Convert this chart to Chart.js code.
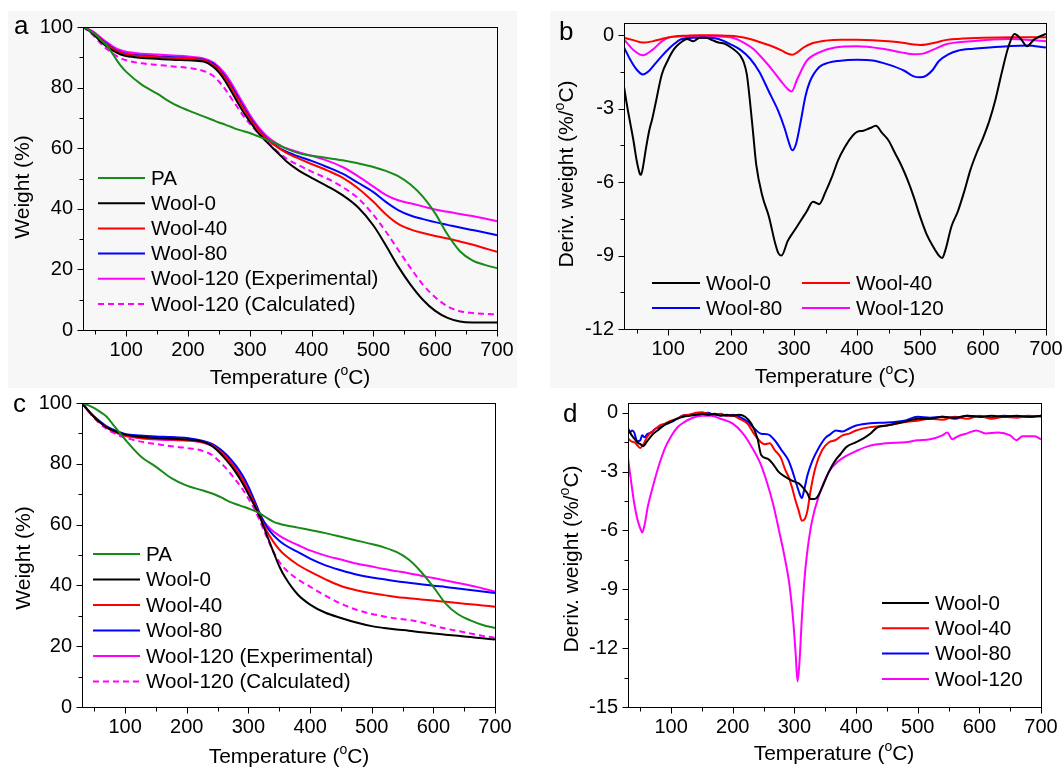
<!DOCTYPE html>
<html>
<head>
<meta charset="utf-8">
<script src="https://cdn.jsdelivr.net/npm/chart.js@4.4.1/dist/chart.umd.min.js"></script>
<style>
  body { margin: 0; background: #fff; }
  #fig { position: relative; width: 1063px; height: 767px; overflow: hidden; }
  .bg { position: absolute; background: #f7f7f7; }
  canvas { position: absolute; }
</style>
</head>
<body>
<div id="fig">
  <div class="bg" style="left:8px;top:11px;width:509px;height:377px"></div>
  <div class="bg" style="left:550px;top:11px;width:505px;height:377px"></div>
  <canvas id="ca" width="530" height="390" style="left:0;top:0;width:530px;height:390px"></canvas>
  <canvas id="cb" width="533" height="390" style="left:530px;top:0;width:533px;height:390px"></canvas>
  <canvas id="cc" width="530" height="377" style="left:0;top:390px;width:530px;height:377px"></canvas>
  <canvas id="cd" width="533" height="377" style="left:530px;top:390px;width:533px;height:377px"></canvas>
</div>
<script>
// ---- axis ticks ----
const xTicks = [100, 200, 300, 400, 500, 600, 700];
const xMinor = [50, 150, 250, 350, 450, 550, 650];
const wTicks = [0, 20, 40, 60, 80, 100];
const wMinor = [10, 30, 50, 70, 90];
const bTicks = [0, -3, -6, -9, -12];
const bMinor = [-1.5, -4.5, -7.5, -10.5];
const dTicks = [0, -3, -6, -9, -12, -15];
const dMinor = [-1.5, -4.5, -7.5, -10.5, -13.5];

// ---- TGA (panels a and c), shared temperature grid ----
const tgaT = [30, 40, 50, 60, 70, 80, 90, 100, 125, 150, 175, 200, 225, 240, 250, 260, 270, 280, 290, 300,
  310, 320, 330, 340, 350, 360, 380, 400, 425, 450, 475, 500, 520, 540, 560, 580, 600, 620, 640, 660, 680, 700];

const aPA = [100, 99, 97.5, 95.5, 93.5, 90.5, 87.5, 85.2, 81, 78, 74.8, 72.5, 70.5, 69.3, 68.5, 67.8, 67, 66.2, 65.6, 65,
  64.2, 63.4, 62.6, 61.8, 60.8, 59.8, 58.3, 57.5, 56.8, 56, 55, 53.8, 52.5, 50.8, 48, 44, 38.5, 31.5, 26, 23, 21.5, 20.4];
const aW0 = [100, 98.8, 97, 95, 93.3, 92, 91, 90.4, 89.8, 89.5, 89.2, 89, 88.6, 87, 85, 82.2, 78.8, 75.2, 71.8, 68.8,
  66, 63.6, 61.5, 59.5, 57.5, 55.5, 52.5, 50.2, 47.5, 44.5, 40.5, 34.5, 28, 21, 15, 10, 6.3, 4, 2.8, 2.5, 2.5, 2.5];
const aW40 = [100, 99, 97.5, 95.7, 94, 92.6, 91.6, 91, 90.4, 90, 89.8, 89.6, 89, 87.6, 85.8, 83.2, 80, 76.5, 73, 69.8,
  67, 64.6, 62.6, 61, 59.6, 58.4, 56.5, 54.8, 52.7, 50.3, 46.8, 42.3, 38.2, 35, 33.2, 32, 31, 30.2, 29.2, 28.2, 27, 25.8];
const aW80 = [100, 99, 97.5, 95.8, 94.2, 92.8, 91.8, 91.2, 90.6, 90.3, 90, 89.8, 89.2, 88, 86.2, 83.6, 80.5, 77, 73.5, 70.2,
  67.3, 64.8, 62.8, 61.2, 59.8, 58.8, 57.2, 55.8, 53.8, 51.6, 48.6, 45.5, 42.3, 39.6, 37.8, 36.6, 35.6, 34.7, 33.8, 33, 32.2, 31.3];
const aW120 = [100, 99.2, 98, 96.3, 94.8, 93.4, 92.4, 91.8, 91.2, 90.9, 90.6, 90.3, 89.6, 88.4, 86.8, 84.5, 81.5, 78, 74.5, 71,
  68, 65.5, 63.5, 62, 60.8, 59.9, 58.6, 57.5, 55.9, 53.8, 50.8, 47.3, 44.6, 42.8, 41.8, 40.8, 39.8, 39, 38.3, 37.6, 36.8, 35.9];
const aW120c = [100, 98.5, 96.5, 94.3, 92.5, 91, 89.8, 89, 88, 87.5, 87, 86.5, 85.5, 84, 82, 79.5, 76.5, 73.5, 70.5, 68,
  65.8, 63.8, 61.8, 59.8, 58, 56.5, 54.3, 52.3, 50, 47.2, 43.5, 38, 32.5, 26.5, 20.5, 15, 10.8, 7.8, 6.2, 5.6, 5.3, 5.1];

const cPA = [100, 99.3, 98.3, 97, 95.5, 93, 90.5, 88, 82.5, 79, 75.3, 72.8, 71.3, 70.3, 69.5, 68.5, 67.5, 66.7, 66, 65.3,
  64.5, 63.5, 62.2, 61, 60.3, 59.8, 59, 58.2, 57.2, 56, 54.8, 53.6, 52.5, 51, 48.5, 44.5, 39.5, 34, 30.5, 28.5, 27, 26];
const cW0 = [100, 97.5, 95.3, 93.5, 92, 91, 90.2, 89.6, 88.8, 88.5, 88.2, 88, 87.3, 86, 84.3, 82.2, 79.8, 77, 73.8, 70,
  66.2, 61.8, 56.5, 51.3, 46.3, 42.5, 37, 33.7, 31, 29.3, 27.8, 26.6, 26, 25.5, 25.1, 24.6, 24.2, 23.8, 23.4, 23, 22.6, 22.2];
const cW40 = [100, 97.5, 95.3, 93.5, 92, 90.8, 90, 89.3, 88.5, 88.2, 88, 87.8, 87.2, 86.2, 84.8, 83, 80.8, 78, 75, 71,
  66.8, 62, 57.8, 54.5, 51.8, 49.8, 46.8, 44.5, 42, 39.8, 38.4, 37.4, 36.8, 36.2, 35.8, 35.4, 35, 34.6, 34.2, 33.8, 33.4, 33];
const cW80 = [100, 97.6, 95.5, 93.8, 92.3, 91.3, 90.5, 89.8, 89.3, 89, 88.8, 88.5, 87.6, 86.6, 85.4, 83.8, 81.8, 79.3, 76.3, 72.5,
  67.8, 63, 59.2, 56.6, 54.7, 53.2, 51, 48.8, 46.6, 45, 43.6, 42.6, 42, 41.4, 40.9, 40.4, 39.9, 39.5, 39, 38.5, 38, 37.5];
const cW120 = [100, 97.6, 95.5, 93.6, 92, 90.8, 89.8, 89.2, 88.4, 88, 87.8, 87.6, 87, 86, 84.8, 83.2, 81.2, 78.7, 75.8, 72,
  67.5, 62.5, 59.8, 57.8, 56.4, 55.2, 53.3, 51.5, 49.8, 48.5, 47.2, 46.2, 45.4, 44.7, 44, 43.2, 42.4, 41.6, 40.8, 40, 39, 38];
const cW120c = [100, 97.3, 95, 93, 91.5, 90.3, 89.3, 88.6, 87.3, 86.5, 85.8, 85.2, 84.3, 83, 81.3, 79.3, 77, 74.5, 71.8, 68.5,
  65, 60.5, 55.8, 51.3, 47.8, 45.3, 42, 39.6, 36.6, 34, 32, 30.6, 29.8, 29.1, 28.6, 27.9, 26.8, 25.8, 25, 24.2, 23.4, 22.8];

// ---- DTG panel b ----
const b0T = [30, 35, 40, 45, 50, 55, 57, 60, 65, 70, 75, 80, 90, 100, 110, 120, 130, 140, 150, 160, 170, 180, 190, 200, 210,
  215, 220, 225, 230, 235, 240, 250, 260, 270, 275, 280, 290, 300, 310, 320, 330, 340, 350, 360, 370, 380, 390, 400, 410,
  420, 430, 440, 450, 460, 470, 480, 490, 500, 510, 520, 530, 535, 540, 550, 560, 570, 580, 590, 600, 610, 620, 630, 640,
  650, 660, 670, 680, 690, 700];
const b0Y = [-2.1, -2.9, -3.6, -4.3, -5.1, -5.65, -5.7, -5.4, -4.6, -3.9, -3.4, -2.8, -1.6, -1.0, -0.55, -0.3, -0.15, -0.25,
  -0.1, -0.1, -0.2, -0.3, -0.35, -0.5, -0.7, -0.85, -1.1, -1.6, -2.7, -4.0, -5.3, -6.6, -7.4, -8.5, -8.9, -9.0, -8.4, -8.0,
  -7.6, -7.2, -6.8, -6.9, -6.4, -5.8, -5.1, -4.6, -4.2, -3.95, -3.9, -3.8, -3.7, -4.0, -4.3, -4.8, -5.3, -5.9, -6.6, -7.4,
  -8.1, -8.6, -9.0, -9.1, -8.8, -7.8, -7.2, -6.4, -5.5, -4.8, -4.2, -3.5, -2.6, -1.5, -0.5, 0.05, -0.15, -0.45, -0.2, -0.05, 0.05];
const b40T = [30, 45, 60, 75, 90, 110, 130, 150, 170, 190, 210, 230, 250, 265, 280, 290, 297, 305, 315, 330, 350, 375, 400,
  425, 450, 475, 490, 500, 510, 525, 540, 560, 600, 650, 700];
const b40Y = [-0.1, -0.2, -0.3, -0.25, -0.15, -0.05, -0.02, 0, 0, -0.02, -0.05, -0.15, -0.32, -0.45, -0.62, -0.75, -0.8,
  -0.7, -0.5, -0.32, -0.22, -0.18, -0.18, -0.2, -0.25, -0.32, -0.38, -0.4, -0.38, -0.3, -0.2, -0.15, -0.1, -0.08, -0.08];
const b80T = [30, 40, 50, 60, 70, 80, 90, 100, 110, 120, 140, 160, 180, 200, 215, 230, 245, 260, 275, 285, 292, 297, 303,
  310, 318, 325, 340, 355, 370, 400, 425, 450, 475, 490, 500, 510, 520, 530, 545, 560, 585, 610, 640, 670, 700];
const b80Y = [-0.5, -1.0, -1.4, -1.6, -1.45, -1.15, -0.85, -0.58, -0.35, -0.17, -0.1, -0.1, -0.15, -0.38, -0.6, -0.95, -1.5,
  -2.3, -3.1, -3.8, -4.4, -4.7, -4.45, -3.6, -2.5, -1.9, -1.3, -1.12, -1.05, -1.0, -1.03, -1.2, -1.45, -1.68, -1.72, -1.65,
  -1.42, -1.05, -0.78, -0.63, -0.55, -0.5, -0.45, -0.42, -0.5];
const b120T = [30, 45, 60, 75, 90, 100, 115, 130, 160, 190, 205, 220, 235, 250, 265, 280, 290, 296, 305, 320, 340, 365, 400,
  440, 470, 490, 505, 520, 540, 580, 640, 700];
const b120Y = [-0.17, -0.6, -0.82, -0.6, -0.25, -0.1, -0.05, -0.03, -0.04, -0.06, -0.12, -0.3, -0.55, -0.95, -1.4, -1.9,
  -2.2, -2.3, -1.8, -1.05, -0.7, -0.5, -0.45, -0.55, -0.7, -0.78, -0.75, -0.6, -0.38, -0.25, -0.15, -0.25];

// ---- DTG panel d ----
const d0T = [30, 35, 40, 45, 50, 55, 60, 70, 80, 90, 100, 110, 120, 130, 140, 150, 160, 170, 180, 190, 200, 210, 220, 230,
  240, 246, 257, 265, 274, 282, 290, 299, 307, 315, 321, 326, 332, 337, 345, 356, 367, 375, 384, 400, 412, 423, 434, 450,
  465, 480, 500, 520, 540, 560, 580, 600, 620, 640, 660, 680, 700];
const d0Y = [-0.8, -1.1, -1.3, -1.5, -1.6, -1.7, -1.5, -1.1, -0.85, -0.6, -0.45, -0.3, -0.2, -0.15, -0.1, -0.05, -0.1,
  -0.05, -0.15, -0.1, -0.15, -0.1, -0.2, -0.55, -1.3, -2.15, -2.35, -2.6, -3.0, -3.2, -3.35, -3.5, -3.6, -3.85, -4.1,
  -4.4, -4.4, -4.3, -3.8, -3.0, -2.4, -2.1, -1.75, -1.5, -1.3, -1.07, -0.75, -0.65, -0.55, -0.45, -0.3, -0.3, -0.2, -0.25,
  -0.15, -0.2, -0.15, -0.2, -0.15, -0.2, -0.15];
const d40T = [30, 35, 40, 45, 50, 55, 60, 64, 70, 81, 90, 100, 110, 120, 130, 140, 150, 160, 170, 180, 190, 200, 210, 224,
  235, 241, 252, 260, 268, 278, 285, 291, 296, 302, 307, 312, 316, 321, 326, 334, 345, 356, 366, 378, 390, 400, 423, 450,
  478, 500, 520, 540, 560, 580, 600, 620, 640, 660, 680, 700];
const d40Y = [-1.3, -1.45, -1.5, -1.65, -1.8, -1.6, -1.3, -1.1, -0.95, -0.65, -0.55, -0.4, -0.3, -0.14, -0.1, 0.0, 0.03,
  -0.05, -0.1, -0.05, -0.15, -0.14, -0.3, -0.56, -1.1, -1.35, -1.6, -1.55, -1.9, -2.3, -2.9, -3.3, -3.8, -4.5, -5.0, -5.5,
  -5.45, -5.0, -4.0, -2.8, -1.9, -1.5, -1.4, -1.15, -1.05, -0.9, -0.73, -0.65, -0.48, -0.4, -0.3, -0.35, -0.2, -0.3,
  -0.15, -0.3, -0.2, -0.25, -0.15, -0.2];
const d80T = [30, 33, 37, 40, 45, 50, 53, 57, 61, 68, 75, 81, 90, 100, 110, 119, 130, 140, 150, 160, 170, 180, 190, 200,
  210, 224, 235, 246, 257, 268, 279, 290, 296, 302, 307, 312, 316, 321, 329, 340, 351, 358, 367, 378, 389, 400, 423, 450,
  478, 500, 520, 540, 560, 580, 600, 620, 640, 660, 680, 700];
const d80Y = [-0.9, -1.0, -0.9, -1.0, -1.45, -1.4, -1.15, -1.25, -1.1, -1.0, -0.8, -0.75, -0.6, -0.48, -0.3, -0.14, -0.1,
  -0.1, -0.05, 0.0, -0.1, -0.1, -0.15, -0.1, -0.2, -0.45, -0.8, -1.07, -1.1, -1.4, -1.9, -2.4, -2.9, -3.5, -4.0, -4.35,
  -3.9, -3.2, -2.45, -1.75, -1.25, -1.1, -0.9, -0.95, -0.8, -0.65, -0.53, -0.5, -0.4, -0.2, -0.25, -0.2, -0.3, -0.15,
  -0.2, -0.25, -0.15, -0.2, -0.2, -0.15];
const d120T = [30, 35, 40, 45, 50, 53, 57, 62, 70, 81, 90, 100, 110, 120, 135, 150, 165, 180, 200, 215, 230, 245, 255, 265,
  275, 285, 292, 298, 302, 305, 308, 312, 316, 320, 328, 340, 356, 370, 384, 400, 420, 450, 480, 500, 520, 540, 548, 556,
  565, 580, 595, 610, 630, 650, 660, 670, 690, 700];
const d120Y = [-2.3, -3.5, -4.6, -5.4, -5.9, -6.1, -5.7, -4.8, -3.8, -2.6, -1.8, -1.2, -0.75, -0.5, -0.25, -0.15, -0.15,
  -0.3, -0.55, -1.0, -1.7, -2.6, -3.5, -4.6, -6.0, -7.5, -8.8, -10.6, -12.3, -13.7, -12.8, -10.5, -8.6, -7.3, -5.6, -4.2,
  -3.0, -2.5, -2.2, -1.95, -1.7, -1.55, -1.5, -1.4, -1.35, -1.15, -1.0, -1.35, -1.2, -1.05, -0.9, -1.05, -1.0, -1.15,
  -1.4, -1.2, -1.2, -1.35];

const FONT = "'Liberation Sans', Arial, sans-serif";
const GREEN = '#178a17', BLACK = '#000000', RED = '#ff0000', BLUE = '#0000ff', MAGENTA = '#ff00ff';

function series(label, T, Y, color, dash) {
  return {
    label: label,
    data: T.map((t, i) => ({ x: t, y: Y[i] })),
    borderColor: color,
    borderWidth: 2,
    borderDash: dash || [],
    pointRadius: 0,
    fill: false,
    cubicInterpolationMode: 'monotone'
  };
}

// draws text made of [text, isSuperscript] parts, centred on x, baseline y
function richText(ctx, parts, x, y, size) {
  const big = size + 'px ' + FONT, small = Math.round(size * 0.65) + 'px ' + FONT;
  let w = 0;
  parts.forEach(p => { ctx.font = p[1] ? small : big; w += ctx.measureText(p[0]).width; });
  let cx = x - w / 2;
  ctx.textAlign = 'left';
  ctx.textBaseline = 'alphabetic';
  parts.forEach(p => {
    ctx.font = p[1] ? small : big;
    ctx.fillText(p[0], cx, p[1] ? y - size * 0.42 : y);
    cx += ctx.measureText(p[0]).width;
  });
}

const decor = {
  id: 'decor',
  afterDraw(chart, args, o) {
    const ctx = chart.ctx, a = chart.chartArea, xs = chart.scales.x, ys = chart.scales.y;
    ctx.save();
    ctx.strokeStyle = '#000';
    ctx.lineWidth = 1;
    const L = Math.round(a.left) + 0.5, R = Math.round(a.right) + 0.5;
    const T = Math.round(a.top) + 0.5, B = Math.round(a.bottom) + 0.5;
    ctx.strokeRect(L, T, R - L, B - T);
    ctx.beginPath();
    const tx = (vals, len) => vals.forEach(v => {
      const p = Math.round(xs.getPixelForValue(v)) + 0.5;
      ctx.moveTo(p, B); ctx.lineTo(p, B + len);
    });
    const ty = (vals, len) => vals.forEach(v => {
      const p = Math.round(ys.getPixelForValue(v)) + 0.5;
      ctx.moveTo(L, p); ctx.lineTo(L - len, p);
    });
    tx(xTicks, 6); tx(xMinor, 4);
    ty(o.yMajor, 6); ty(o.yMinor, 4);
    ctx.stroke();

    ctx.fillStyle = '#000';
    // x title
    richText(ctx, [['Temperature (', 0], ['o', 1], ['C)', 0]], o.xTitle[0], o.xTitle[1], 21);
    // y title
    ctx.save();
    ctx.translate(o.yTitle[0], o.yTitle[1]);
    ctx.rotate(-Math.PI / 2);
    richText(ctx, o.yText, 0, 0, 21);
    ctx.restore();
    // panel letter
    ctx.font = '26px ' + FONT;
    ctx.textAlign = 'left';
    ctx.textBaseline = 'alphabetic';
    ctx.fillText(o.letter[0], o.letter[1], o.letter[2]);
    // legend
    const lg = o.legend;
    chart.data.datasets.forEach((ds, i) => {
      const col = i % lg.cols, row = Math.floor(i / lg.cols);
      const x0 = lg.x + col * lg.dx, y0 = lg.y + row * lg.dy;
      ctx.beginPath();
      ctx.strokeStyle = ds.borderColor;
      ctx.lineWidth = 2;
      ctx.setLineDash(ds.borderDash || []);
      ctx.moveTo(x0, y0); ctx.lineTo(x0 + lg.len, y0);
      ctx.stroke();
      ctx.setLineDash([]);
      ctx.font = '20.6px ' + FONT;
      ctx.textBaseline = 'middle';
      ctx.fillText(ds.label, x0 + lg.len + 6, y0 + 1);
    });
    ctx.restore();
  }
};

function makeChart(id, datasets, cfg) {
  return new Chart(document.getElementById(id), {
    type: 'line',
    data: { datasets: datasets },
    options: {
      responsive: false,
      animation: false,
      devicePixelRatio: 1,
      layout: { padding: cfg.pad },
      plugins: {
        legend: { display: false },
        tooltip: { enabled: false },
        decor: cfg.decor
      },
      scales: {
        x: {
          type: 'linear',
          min: 30,
          max: 700,
          afterBuildTicks: s => { s.ticks = xTicks.map(v => ({ value: v })); },
          afterFit: s => { s.height = 40; s.paddingLeft = 0; s.paddingRight = 0; },
          grid: { display: false, drawTicks: false, tickLength: 0 },
          border: { display: false },
          ticks: { color: '#000', font: { family: FONT, size: 20 }, padding: 8, maxRotation: 0, autoSkip: false }
        },
        y: {
          type: 'linear',
          min: cfg.yMin,
          max: cfg.yMax,
          afterBuildTicks: s => { s.ticks = cfg.yTicks.map(v => ({ value: v })); },
          afterFit: s => { s.width = 50; s.paddingTop = 0; s.paddingBottom = 0; },
          grid: { display: false, drawTicks: false, tickLength: 0 },
          border: { display: false },
          ticks: { color: '#000', font: { family: FONT, size: 20 }, padding: 10, autoSkip: false }
        }
      }
    },
    plugins: [decor]
  });
}

const tgaTitle = [['Weight (%)', 0]];
const dtgTitle = [['Deriv. weight (%/', 0], ['o', 1], ['C)', 0]];

makeChart('ca', [
  series('PA', tgaT, aPA, GREEN),
  series('Wool-0', tgaT, aW0, BLACK),
  series('Wool-40', tgaT, aW40, RED),
  series('Wool-80', tgaT, aW80, BLUE),
  series('Wool-120 (Experimental)', tgaT, aW120, MAGENTA),
  series('Wool-120 (Calculated)', tgaT, aW120c, MAGENTA, [6, 4])
], {
  pad: { left: 33, right: 33, top: 27, bottom: 20 },
  yMin: 0, yMax: 100, yTicks: wTicks,
  decor: {
    yMajor: wTicks, yMinor: wMinor,
    xTitle: [290, 384], yTitle: [29, 187], yText: tgaTitle, letter: ['a', 14, 34],
    legend: { x: 98, y: 178, dy: 25.2, dx: 0, cols: 1, len: 47 }
  }
});

makeChart('cb', [
  series('Wool-0', b0T, b0Y, BLACK),
  series('Wool-40', b40T, b40Y, RED),
  series('Wool-80', b80T, b80Y, BLUE),
  series('Wool-120', b120T, b120Y, MAGENTA)
], {
  pad: { left: 44, right: 17, top: 23, bottom: 21 },
  yMin: -12, yMax: 0.5, yTicks: bTicks,
  decor: {
    yMajor: bTicks, yMinor: bMinor,
    xTitle: [305, 383], yTitle: [43, 174], yText: dtgTitle, letter: ['b', 29, 40],
    legend: { x: 122, y: 283, dy: 25, dx: 150, cols: 2, len: 48 }
  }
});

makeChart('cc', [
  series('PA', tgaT, cPA, GREEN),
  series('Wool-0', tgaT, cW0, BLACK),
  series('Wool-40', tgaT, cW40, RED),
  series('Wool-80', tgaT, cW80, BLUE),
  series('Wool-120 (Experimental)', tgaT, cW120, MAGENTA),
  series('Wool-120 (Calculated)', tgaT, cW120c, MAGENTA, [6, 4])
], {
  pad: { left: 32, right: 35, top: 13, bottom: 20 },
  yMin: 0, yMax: 100, yTicks: wTicks,
  decor: {
    yMajor: wTicks, yMinor: wMinor,
    xTitle: [289, 373], yTitle: [30, 168], yText: tgaTitle, letter: ['c', 13, 22],
    legend: { x: 93, y: 164, dy: 25.5, dx: 0, cols: 1, len: 47 }
  }
});

makeChart('cd', [
  series('Wool-0', d0T, d0Y, BLACK),
  series('Wool-40', d40T, d40Y, RED),
  series('Wool-80', d80T, d80Y, BLUE),
  series('Wool-120', d120T, d120Y, MAGENTA)
], {
  pad: { left: 48, right: 22, top: 13, bottom: 20 },
  yMin: -15, yMax: 0.5, yTicks: dTicks,
  decor: {
    yMajor: dTicks, yMinor: dMinor,
    xTitle: [304, 370], yTitle: [48, 169], yText: dtgTitle, letter: ['d', 33, 32],
    legend: { x: 352, y: 213, dy: 25.3, dx: 0, cols: 1, len: 47 }
  }
});
</script>
</body>
</html>
